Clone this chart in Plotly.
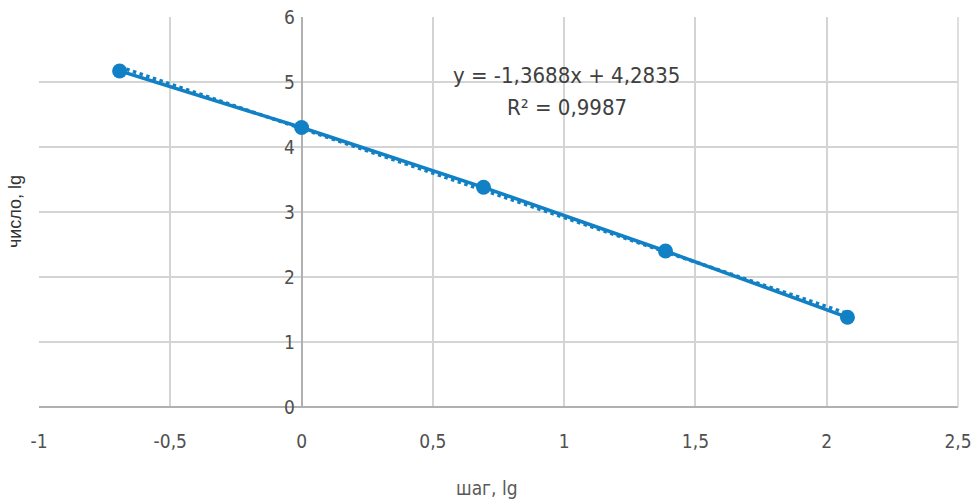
import numpy as np
import plotly.graph_objects as go

x_vals = [-0.693, 0.0, 0.693, 1.386, 2.079]
y_vals = [5.17, 4.30, 3.38, 2.40, 1.38]
slope = -1.3688
intercept = 4.2835
r2 = 0.9987
x_ticks = [-1, -0.5, 0, 0.5, 1, 1.5, 2, 2.5]
x_tick_text = ["-1", "-0,5", "0", "0,5", "1", "1,5", "2", "2,5"]
y_ticks = [0, 1, 2, 3, 4, 5, 6]

blue = "#1280c4"
fam = "DejaVu Sans Condensed, Liberation Sans Narrow, Roboto Condensed, Roboto, sans-serif"
tick_font = dict(family=fam, size=19, color="#505050")

trend_x = [x_vals[0], x_vals[-1]]
trend_y = [slope * v + intercept for v in trend_x]

fig = go.Figure()
fig.add_trace(go.Scatter(x=trend_x, y=trend_y, mode="lines",
                         line=dict(color=blue, width=3.5, dash="dot"), showlegend=False))
fig.add_trace(go.Scatter(x=x_vals, y=y_vals, mode="lines+markers",
                         line=dict(color=blue, width=3.5),
                         marker=dict(color=blue, size=15), showlegend=False))

fig.add_annotation(x=0.5745, y=0.851, xref="paper", yref="paper", xanchor="center", yanchor="middle",
                   text="y = -1,3688x + 4,2835", showarrow=False,
                   font=dict(family=fam, size=22, color="#404040"))
fig.add_annotation(x=0.5745, y=0.767, xref="paper", yref="paper", xanchor="center", yanchor="middle",
                   text="R² = 0,9987", showarrow=False,
                   font=dict(family=fam, size=22, color="#404040"))
fig.add_annotation(x=-0.026, y=0.5, xref="paper", yref="paper", xanchor="center", yanchor="middle",
                   text="число, lg", textangle=-90, showarrow=False,
                   font=dict(family="Liberation Sans, Arial, sans-serif", size=18, color="#333333"))
fig.add_annotation(x=0.4875, y=-0.208, xref="paper", yref="paper",
                   xanchor="center", yanchor="middle", text="шаг, lg", showarrow=False,
                   font=dict(family=fam, size=19, color="#595959"))

fig.update_layout(
    width=974, height=501,
    margin=dict(l=39, r=16, t=17, b=94),
    paper_bgcolor="white", plot_bgcolor="white",
    separators=", ",
    xaxis=dict(range=[-1, 2.5], tickvals=x_ticks, ticktext=x_tick_text, automargin=False,
               ticklabeloverflow="allow",
               showgrid=True, gridcolor="#d4d4d4", gridwidth=1.5,
               zeroline=True, zerolinecolor="#b0b0b0", zerolinewidth=2,
               showline=False, ticks="outside", ticklen=17, tickcolor="rgba(0,0,0,0)",
               tickfont=tick_font),
    yaxis=dict(range=[0, 6], tickvals=y_ticks, anchor="free", position=1/3.5, automargin=False,
               ticklabeloverflow="allow",
               showgrid=True, gridcolor="#d4d4d4", gridwidth=1.5,
               zeroline=True, zerolinecolor="#b0b0b0", zerolinewidth=2,
               ticks="outside", ticklen=3, tickcolor="rgba(0,0,0,0)",
               tickfont=tick_font),
)
fig.add_shape(type="line", xref="paper", yref="paper", x0=1, x1=1, y0=0, y1=1,
              line=dict(color="#d4d4d4", width=1.5), layer="above")

fig.write_html("out.html", config={"displayModeBar": False},
               post_script="document.body.style.margin='0';")
